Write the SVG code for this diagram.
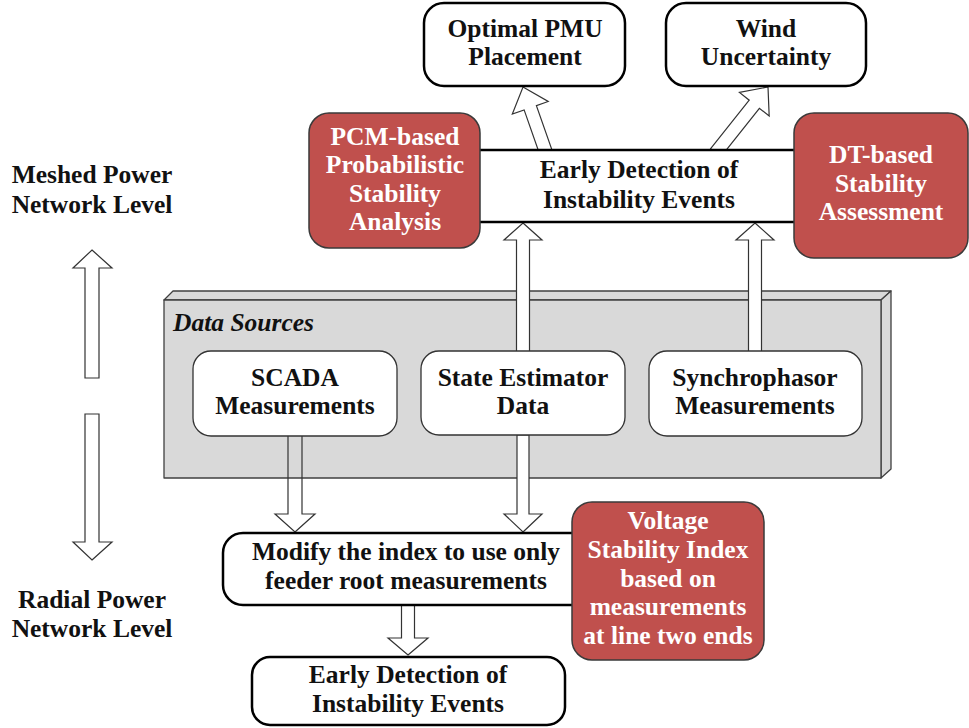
<svg xmlns="http://www.w3.org/2000/svg" width="969" height="728" viewBox="0 0 969 728">
  <style>
    text { font-family: "Liberation Serif", "Times New Roman", serif; font-weight: bold; font-size: 25.5px; text-anchor: middle; }
    .dark { fill: #111; }
    .light { fill: #ffffff; }
    .box { fill: #ffffff; stroke: #000; stroke-width: 2.5; }
    .src { fill: #ffffff; stroke: #333; stroke-width: 1.3; }
    .red { fill: #C0504D; stroke: #3a3a3a; stroke-width: 1.5; }
    .arrow { fill: #ffffff; stroke: #333; stroke-width: 1.2; stroke-linejoin: miter; }
    .hollow { fill: none; stroke: #333; stroke-width: 1.2; }
    .slab { fill: #D9D9D9; stroke: #404040; stroke-width: 1.3; stroke-linejoin: round; }
  </style>

  <!-- level labels and level arrows -->
  <g id="level-meshed">
    <text class="dark" x="92" y="183">Meshed Power</text>
    <text class="dark" x="92" y="213">Network Level</text>
  </g>
  <g id="level-radial">
    <text class="dark" x="92" y="608">Radial Power</text>
    <text class="dark" x="92" y="637">Network Level</text>
  </g>

  <!-- data sources slab (3D) -->
  <g id="data-sources">
    <polygon class="slab" points="164,300 173,291 891,291 881,300"/>
    <polygon class="slab" points="881,300 891,291 891,469 881,478"/>
    <rect class="slab" x="164" y="300" width="717" height="178"/>
    <text class="dark" x="173" y="331" style="font-style:italic;text-anchor:start">Data Sources</text>
  </g>

  <g id="connectors">
    <!-- level arrows -->
    <polygon class="arrow" points="92,250 112,268 99,268 99,378 85,378 85,268 73,268"/>
    <polygon class="arrow" points="92,560 112,542 99,542 99,414 85,414 85,542 73,542"/>
    <!-- early detection to PMU placement / wind uncertainty -->
    <polygon class="arrow" transform="translate(523,87) rotate(-19.3)" points="0,0 19,22 6.5,22 6.5,70 -6.5,70 -6.5,22 -19,22"/>
    <polygon class="arrow" transform="translate(768,87) rotate(38.5)" points="0,0 19,22 6.5,22 6.5,84 -6.5,84 -6.5,22 -19,22"/>
    <!-- state estimator / synchrophasor up to early detection -->
    <polygon class="arrow" points="523,223 542,240 529.5,240 529.5,352 516.5,352 516.5,240 504,240"/>
    <polygon class="arrow" points="755,223 774,240 761.5,240 761.5,352 748.5,352 748.5,240 736,240"/>
    <!-- SCADA / state estimator down to modified index -->
    <polygon class="hollow" points="295,532 315,514 302,514 302,435 288,435 288,514 275,514"/>
    <polygon class="arrow" points="523,532 542,514 529,514 529,435 517,435 517,514 504,514"/>
    <!-- modified index down to radial early detection -->
    <polygon class="arrow" points="408,655 428,638 414.5,638 414.5,604 401.5,604 401.5,638 388,638"/>
  </g>

  <g id="early-detection-meshed">
    <rect class="box" x="470" y="150" width="330" height="72"/>
    <text class="dark" x="639" y="178">Early Detection of</text>
    <text class="dark" x="639" y="208">Instability Events</text>
  </g>

  <g id="optimal-pmu">
    <rect class="box" x="424" y="3" width="201" height="83" rx="20"/>
    <text class="dark" x="525" y="37">Optimal PMU</text>
    <text class="dark" x="525" y="65">Placement</text>
  </g>

  <g id="wind-uncertainty">
    <rect class="box" x="666" y="3" width="200" height="83" rx="20"/>
    <text class="dark" x="766" y="37">Wind</text>
    <text class="dark" x="766" y="65">Uncertainty</text>
  </g>

  <g id="pcm-analysis">
    <rect class="red" x="309" y="113" width="171" height="135" rx="20"/>
    <text class="light" x="395" y="145">PCM-based</text>
    <text class="light" x="395" y="173">Probabilistic</text>
    <text class="light" x="395" y="202">Stability</text>
    <text class="light" x="395" y="230">Analysis</text>
  </g>

  <g id="dt-assessment">
    <rect class="red" x="794" y="113" width="174" height="145" rx="20"/>
    <text class="light" x="881" y="163">DT-based</text>
    <text class="light" x="881" y="192">Stability</text>
    <text class="light" x="881" y="220">Assessment</text>
  </g>

  <g id="scada">
    <rect class="src" x="193" y="351" width="204" height="85" rx="18"/>
    <text class="dark" x="295" y="386">SCADA</text>
    <text class="dark" x="295" y="414">Measurements</text>
  </g>

  <g id="state-estimator">
    <rect class="src" x="421" y="351" width="204" height="84" rx="18"/>
    <text class="dark" x="523" y="386">State Estimator</text>
    <text class="dark" x="523" y="414">Data</text>
  </g>

  <g id="synchrophasor">
    <rect class="src" x="649" y="351" width="213" height="85" rx="18"/>
    <text class="dark" x="755" y="386">Synchrophasor</text>
    <text class="dark" x="755" y="414">Measurements</text>
  </g>

  <g id="modified-index">
    <rect class="box" x="223" y="533" width="380" height="72" rx="20"/>
    <text class="dark" x="406" y="560">Modify the index to use only</text>
    <text class="dark" x="406" y="589">feeder root measurements</text>
  </g>

  <g id="voltage-index">
    <rect class="red" x="572" y="502" width="192" height="158" rx="20"/>
    <text class="light" x="668" y="529">Voltage</text>
    <text class="light" x="668" y="558">Stability Index</text>
    <text class="light" x="668" y="587">based on</text>
    <text class="light" x="668" y="615">measurements</text>
    <text class="light" x="668" y="644">at line two ends</text>
  </g>

  <g id="early-detection-radial">
    <rect class="box" x="252" y="657" width="313" height="68" rx="18"/>
    <text class="dark" x="408" y="683">Early Detection of</text>
    <text class="dark" x="408" y="712">Instability Events</text>
  </g>
</svg>
